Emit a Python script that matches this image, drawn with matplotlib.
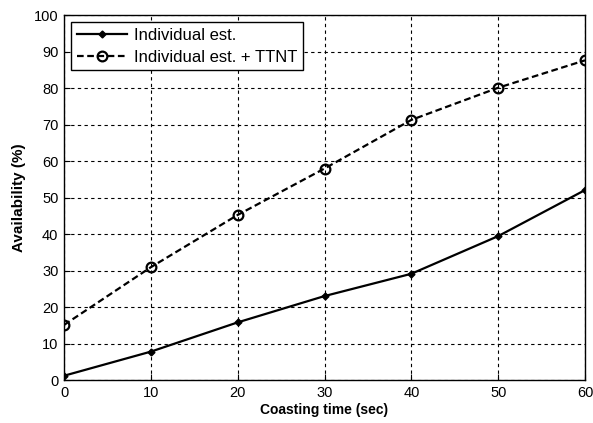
import matplotlib
matplotlib.use("Agg")
import matplotlib.pyplot as plt

plt.rcParams['font.family'] = ['Liberation Sans', 'DejaVu Sans']

coasting_time = [0, 10, 20, 30, 40, 50, 60]
individual = [1.3, 7.9, 15.9, 23.1, 29.2, 39.5, 52.1]
individual_ttnt = [15.2, 31.0, 45.3, 58.0, 71.3, 80.1, 87.6]

fig = plt.figure(figsize=(5.93, 4.23), dpi=100)
ax = fig.add_axes([0.108, 0.1005, 0.8785, 0.864])

ax.plot(coasting_time, individual, '-', color='black', lw=1.6,
        marker='D', markersize=3.5, label='Individual est.')
ax.plot(coasting_time, individual_ttnt, color='black', lw=1.6,
        linestyle=(0, (3, 1.6)), marker='o', markersize=7,
        markerfacecolor='none', markeredgewidth=1.6,
        label='Individual est. + TTNT')

ax.set_xlim(0, 60)
ax.set_ylim(0, 100)
ax.set_xticks(range(0, 61, 10))
ax.set_yticks(range(0, 101, 10))
ax.tick_params(direction='in', labelsize=10.5, length=4, pad=4)
ax.grid(True, linestyle=(0, (3, 3)), color='black', lw=0.8)
for s in ax.spines.values():
    s.set_linewidth(1.0)

ax.set_xlabel('Coasting time (sec)', fontsize=10, fontweight='bold', labelpad=2)
ax.set_ylabel('Availability (%)', fontsize=11, fontweight='bold', labelpad=6)

leg = ax.legend(loc='upper left', fontsize=12, fancybox=False, framealpha=1,
                edgecolor='black', handlelength=3.0, handletextpad=0.4,
                labelspacing=0.4, borderpad=0.35, borderaxespad=0.42)
leg.get_frame().set_linewidth(1.0)

fig.savefig('out.png', dpi=100)
